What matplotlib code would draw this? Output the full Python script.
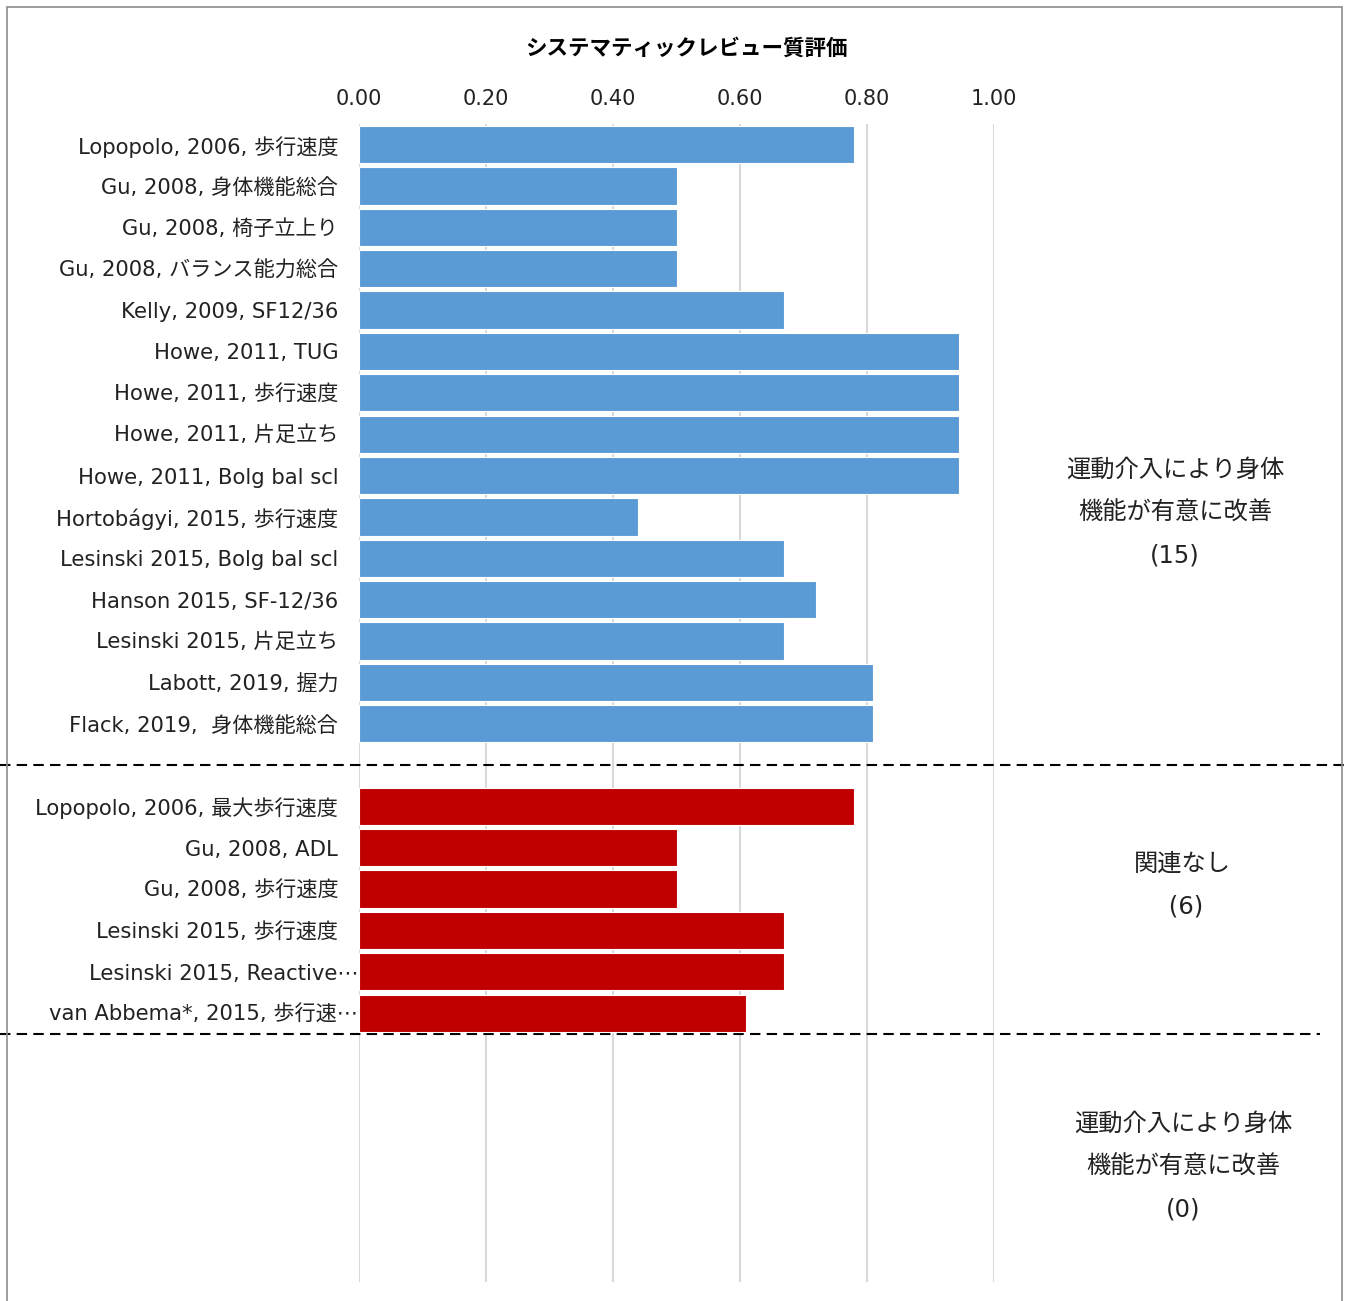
import numpy as np
import matplotlib
matplotlib.use("Agg")
import matplotlib.pyplot as plt
import matplotlib.transforms as mtransforms
from matplotlib.patches import Rectangle

plt.rcParams['font.family'] = ['DejaVu Sans', 'Noto Sans CJK JP']

# 有意に改善した研究
blue_labels = [
    "Lopopolo, 2006, 歩行速度",
    "Gu, 2008, 身体機能総合",
    "Gu, 2008, 椅子立上り",
    "Gu, 2008, バランス能力総合",
    "Kelly, 2009, SF12/36",
    "Howe, 2011, TUG",
    "Howe, 2011, 歩行速度",
    "Howe, 2011, 片足立ち",
    "Howe, 2011, Bolg bal scl",
    "Hortobágyi, 2015, 歩行速度",
    "Lesinski 2015, Bolg bal scl",
    "Hanson 2015, SF-12/36",
    "Lesinski 2015, 片足立ち",
    "Labott, 2019, 握力",
    "Flack, 2019,  身体機能総合",
]
blue_values = [0.78, 0.50, 0.50, 0.50, 0.67, 0.945, 0.945, 0.945, 0.945,
               0.44, 0.67, 0.72, 0.67, 0.81, 0.81]

# 関連なし
red_labels = [
    "Lopopolo, 2006, 最大歩行速度",
    "Gu, 2008, ADL",
    "Gu, 2008, 歩行速度",
    "Lesinski 2015, 歩行速度",
    "Lesinski 2015, Reactive⋯",
    "van Abbema*, 2015, 歩行速⋯",
]
red_values = [0.78, 0.50, 0.50, 0.67, 0.67, 0.61]

n_empty_rows = 6
xticks = [0.0, 0.2, 0.4, 0.6, 0.8, 1.0]

blue_pos = np.arange(len(blue_labels))
red_pos = np.arange(len(red_labels)) + len(blue_labels) + 1
n_rows = len(blue_labels) + 1 + len(red_labels) + n_empty_rows

W, H = 1345, 1301
fig = plt.figure(figsize=(W / 100, H / 100), dpi=100)
ax = fig.add_axes([359 / W, 1 - 1282 / H, (994 - 359) / W, (1282 - 124) / H])
ax.set_axisbelow(True)

ax.barh(blue_pos, blue_values, height=0.9, color="#5B9BD5",
        edgecolor="white", linewidth=0.8, zorder=3)
ax.barh(red_pos, red_values, height=0.9, color="#C00000",
        edgecolor="white", linewidth=0.8, zorder=3)

ax.set_xlim(0, 1.0)
ax.set_ylim(n_rows - 0.5, -0.5)
ax.set_xticks(xticks)
ax.set_xticklabels([f"{v:.2f}" for v in xticks])
ax.xaxis.tick_top()
ax.tick_params(axis="x", length=0, labelsize=15, pad=11, colors="#222222")
ax.set_yticks(np.concatenate([blue_pos, red_pos]))
ax.set_yticklabels(blue_labels + red_labels)
ax.tick_params(axis="y", length=0, labelsize=15.2, pad=15, colors="#222222")
ax.grid(axis="x", color="#D9D9D9", linewidth=1.5)
for s in ax.spines.values():
    s.set_visible(False)

# 省略記号付きのラベルは右にはみ出す
shift = mtransforms.ScaledTranslation(20 / 100, 0, fig.dpi_scale_trans)
for lab in ax.get_yticklabels():
    if lab.get_text().endswith("⋯"):
        lab.set_transform(lab.get_transform() + shift)

fig.text(686 / W, 1 - 48 / H, "システマティックレビュー質評価",
         ha="center", va="center", fontsize=15.5, fontweight="bold")

# グループ境界の破線
trans = mtransforms.blended_transform_factory(fig.transFigure, ax.transData)
ax.plot([0, 1], [len(blue_labels), len(blue_labels)], transform=trans,
        color="black", linestyle=(0, (5, 3)), linewidth=1.5, clip_on=False)
ax.plot([0, 1320 / W], [red_pos[-1] + 0.5, red_pos[-1] + 0.5], transform=trans,
        color="black", linestyle=(0, (5, 3)), linewidth=1.5, clip_on=False)

# 右側の注記
notes = [
    (1175, 513, "運動介入により身体\n機能が有意に改善\n(15)"),
    (1182, 885, "関連なし\n (6)"),
    (1183, 1167, "運動介入により身体\n機能が有意に改善\n(0)"),
]
for x, y, s in notes:
    fig.text(x / W, 1 - y / H, s, ha="center", va="center",
             fontsize=17.5, linespacing=2.0, color="#222222")

fig.patches.append(Rectangle((7 / W, -0.02), (1342 - 7) / W, 1.02 - 7 / H,
                             transform=fig.transFigure, fill=False,
                             edgecolor="#8C8C8C", linewidth=1.2))

fig.savefig("out.png", dpi=100, facecolor="white")
